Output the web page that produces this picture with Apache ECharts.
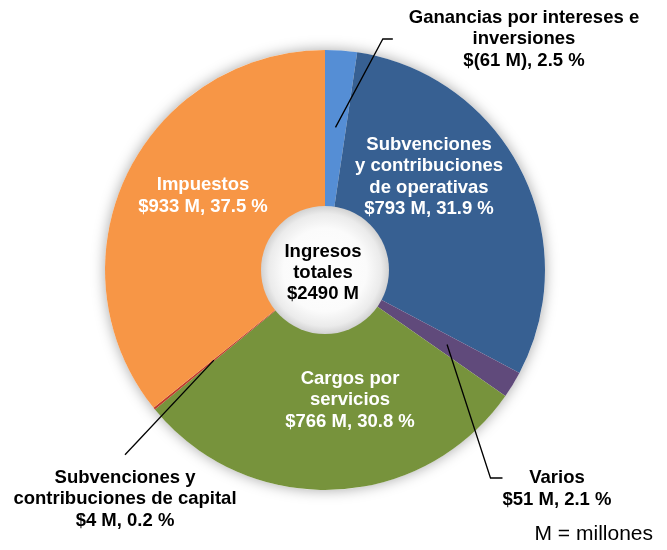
<!DOCTYPE html>
<html>
<head>
<meta charset="utf-8">
<script src="https://cdn.jsdelivr.net/npm/echarts@6/dist/echarts.min.js"></script>
<style>
  html, body { margin: 0; padding: 0; background: #fff; }
  #chart { width: 667px; height: 550px; }
</style>
</head>
<body>
<div id="chart"></div>
<script>
  // porciones en sentido horario desde las 12
  const categorias = [
    'Ganancias por intereses e\ninversiones',
    'Subvenciones\ny contribuciones\nde operativas',
    'Varios',
    'Cargos por\nservicios',
    'Subvenciones y\ncontribuciones de capital',
    'Impuestos'
  ];
  // tamaño de cada porción en millones (las ganancias son negativas: se dibujan por su valor absoluto)
  const montos = [61, 793, 51, 766, 4, 933];
  const montosTexto = ['$(61 M)', '$793 M', '$51 M', '$766 M', '$4 M', '$933 M'];
  const porcentajes = ['2.5 %', '31.9 %', '2.1 %', '30.8 %', '0.2 %', '37.5 %'];
  const colores = ['#558ed5', '#376092', '#604a7b', '#77933c', '#c0392b', '#f79646'];
  const totalIngresos = 2490;
  const rotuloTotal = 'Ingresos\ntotales';
  const notaUnidades = 'M = millones';

  const fuente = "'Liberation Sans', Arial, sans-serif";
  const centro = [325, 270];

  // donde va cada rótulo
  const posInterior = { 1: [429, 177], 3: [350, 400], 5: [203, 196] };
  const posExterior = { 0: [516, 39], 2: [557, 478], 4: [125, 499] };
  // retoques de los rótulos exteriores para que la línea guía llegue donde toca
  const ajusteExterior = {
    0: { padding: [0, 0, 0, 16], tramo: 10, prefijo: '' },
    2: { padding: 0, tramo: 12, prefijo: '\n' },
    4: { padding: [24, 0, 0, 0], tramo: 0, prefijo: '' }
  };

  const textoRotulo = p => categorias[p.dataIndex] + '\n' + montosTexto[p.dataIndex] + ', ' + porcentajes[p.dataIndex];

  const datosPrincipal = categorias.map((nombre, i) => ({
    name: nombre,
    value: montos[i],
    itemStyle: { color: colores[i] },
    label: { show: i in posInterior }
  }));

  const datosGuia = categorias.map((nombre, i) => {
    const a = ajusteExterior[i];
    return {
      name: nombre,
      value: montos[i],
      label: a ? { show: true, padding: a.padding, formatter: p => a.prefijo + textoRotulo(p) } : { show: false },
      labelLine: a ? { show: true, length2: a.tramo } : { show: false }
    };
  });

  let myChart = echarts.init(document.getElementById('chart'));
  myChart.setOption({
    animation: false,
    title: {
      text: notaUnidades,
      right: 9,
      bottom: 0,
      textStyle: { fontWeight: 'normal', fontSize: 21, color: '#000', fontFamily: fuente }
    },
    series: [
      // sombra del anillo
      {
        type: 'pie',
        silent: true,
        center: centro,
        radius: [0, 220],
        label: { show: false },
        labelLine: { show: false },
        itemStyle: { color: '#fff', shadowBlur: 14, shadowColor: 'rgba(0,0,0,0.35)' },
        data: [{ value: 1 }]
      },
      {
        type: 'pie',
        silent: true,
        center: centro,
        radius: [0, 220],
        startAngle: 90,
        clockwise: true,
        avoidLabelOverlap: false,
        label: {
          position: 'inside',
          formatter: textoRotulo,
          color: '#fff',
          fontWeight: 'bold',
          fontSize: 18.5,
          lineHeight: 21.5,
          fontFamily: fuente
        },
        labelLine: { show: false },
        labelLayout: p => {
          const q = posInterior[p.dataIndex];
          return q ? { x: q[0], y: q[1], align: 'center', verticalAlign: 'middle' } : {};
        },
        data: datosPrincipal
      },
      // hueco central
      {
        type: 'pie',
        silent: true,
        z: 3,
        center: centro,
        radius: [0, 64],
        itemStyle: {
          color: {
            type: 'radial', x: 0.5, y: 0.5, r: 0.5,
            colorStops: [
              { offset: 0, color: '#ffffff' },
              { offset: 0.65, color: '#fbfbfb' },
              { offset: 0.88, color: '#ebebeb' },
              { offset: 1, color: '#d2d2d2' }
            ]
          }
        },
        label: {
          show: true,
          position: 'center',
          formatter: () => rotuloTotal + '\n$' + totalIngresos + ' M',
          color: '#000',
          fontWeight: 'bold',
          fontSize: 18.5,
          lineHeight: 21,
          fontFamily: fuente
        },
        labelLine: { show: false },
        labelLayout: { dx: -2, dy: 3 },
        data: [{ value: totalIngresos }]
      },
      // rótulos exteriores con líneas guía
      {
        type: 'pie',
        silent: true,
        z: 5,
        center: centro,
        radius: [0, 143],
        startAngle: 90,
        clockwise: true,
        avoidLabelOverlap: false,
        itemStyle: { color: 'rgba(0,0,0,0)' },
        label: {
          position: 'outside',
          color: '#000',
          fontWeight: 'bold',
          fontSize: 18.5,
          lineHeight: 21.5,
          fontFamily: fuente,
          backgroundColor: 'rgba(255,255,255,0)'
        },
        labelLine: {
          lineStyle: { color: '#000', width: 1.3 }
        },
        labelLayout: p => {
          const q = posExterior[p.dataIndex];
          return q ? { x: q[0], y: q[1], align: 'center', verticalAlign: 'middle' } : {};
        },
        data: datosGuia
      }
    ]
  });
</script>
</body>
</html>
